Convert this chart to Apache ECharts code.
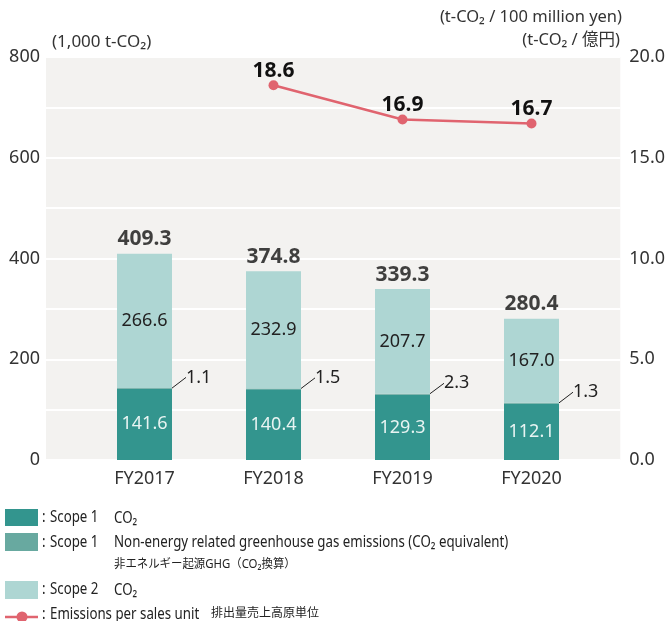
<!DOCTYPE html>
<html><head><meta charset="utf-8">
<script src="https://cdn.jsdelivr.net/npm/echarts@6/dist/echarts.min.js"></script>
<style>html,body{margin:0;padding:0;background:#fff}#c{width:668px;height:621px}</style>
</head><body><div id="c"></div>
<script>
const categories = ['FY2017', 'FY2018', 'FY2019', 'FY2020'];
const scope1CO2 = [141.6, 140.4, 129.3, 112.1];
const scope1NonEnergy = [1.1, 1.5, 2.3, 1.3];
const scope2CO2 = [266.6, 232.9, 207.7, 167.0];
const totals = [409.3, 374.8, 339.3, 280.4];
const intensity = [null, 18.6, 16.9, 16.7];
const leftAxis = {min: 0, max: 800, step: 200};
const rightAxis = {min: 0, max: 20, step: 5};

const C1 = '#33958e', C2 = '#68a9a0', C3 = '#aed6d3', CL = '#e0646f';
const F = '"Noto Sans", "Noto Sans CJK JP", sans-serif';
const chart = echarts.init(document.getElementById('c'));

function legendText(x, y, text, size, sx) {
  return {type: 'text', x: x, y: y, scaleX: sx || 0.83,
    style: {text: text, font: size + 'px ' + F, fill: '#222', verticalAlign: 'middle', textAlign: 'left'}};
}

chart.setOption({
  animation: false,
  textStyle: {fontFamily: F},
  grid: [
    {left: 46, right: 47, top: 57, bottom: 161, show: true, backgroundColor: '#f3f2f0', borderWidth: 0},
    {left: 80, right: 72, top: 57, bottom: 161}
  ],
  xAxis: [
    {gridIndex: 0, type: 'value', show: false, min: 0, max: 1},
    {gridIndex: 1, type: 'category', data: categories, axisLine: {show: false}, axisTick: {show: false},
     axisLabel: {fontSize: 18, color: '#333', margin: 10}}
  ],
  yAxis: [
    {gridIndex: 0, type: 'value', min: leftAxis.min, max: leftAxis.max, interval: leftAxis.step / 2,
     axisLine: {show: false}, axisTick: {show: false},
     axisLabel: {fontSize: 18, color: '#333', margin: 6, formatter: v => (v % leftAxis.step === 0 ? String(v) : '')},
     splitLine: {lineStyle: {color: '#ffffff', width: 2}}},
    {gridIndex: 0, type: 'value', position: 'right', min: rightAxis.min, max: rightAxis.max, interval: rightAxis.step,
     axisLine: {show: false}, axisTick: {show: false}, splitLine: {show: false},
     axisLabel: {fontSize: 18, color: '#333', margin: 9, formatter: v => v.toFixed(1)}},
    {gridIndex: 1, type: 'value', min: leftAxis.min, max: leftAxis.max, show: false, splitLine: {show: false}},
    {gridIndex: 1, type: 'value', min: rightAxis.min, max: rightAxis.max, show: false, splitLine: {show: false}}
  ],
  series: [
    {type: 'bar', name: 'Scope 1 CO2', xAxisIndex: 1, yAxisIndex: 2, stack: 'e', barWidth: 55, data: scope1CO2,
     itemStyle: {color: C1},
     label: {show: true, position: 'inside', color: '#e8f4f2', fontSize: 18, formatter: p => p.value.toFixed(1)}},
    {type: 'bar', name: 'Scope 1 non-energy', xAxisIndex: 1, yAxisIndex: 2, stack: 'e', barWidth: 55, data: scope1NonEnergy,
     itemStyle: {color: C2},
     label: {show: true, position: 'right', distance: 4, color: '#222', fontSize: 18, formatter: p => p.value.toFixed(1)},
     labelLayout: {dx: 10, dy: -11},
     labelLine: {show: true, lineStyle: {color: '#222', width: 1}}},
    {type: 'bar', name: 'Scope 2 CO2', xAxisIndex: 1, yAxisIndex: 2, stack: 'e', barWidth: 55, data: scope2CO2,
     itemStyle: {color: C3},
     label: {show: true, position: 'inside', color: '#222', fontSize: 18, formatter: p => p.value.toFixed(1)}},
    {type: 'scatter', name: 'total', xAxisIndex: 1, yAxisIndex: 2, symbolSize: 0, data: totals,
     label: {show: true, position: 'top', distance: 4, color: '#111', fontSize: 21, fontWeight: 'bold',
       formatter: p => p.value.toFixed(1)}},
    {type: 'line', name: 'Emissions per sales unit', xAxisIndex: 1, yAxisIndex: 3, data: intensity,
     symbol: 'circle', symbolSize: 10, itemStyle: {color: CL}, lineStyle: {color: CL, width: 2.5},
     label: {show: true, position: 'top', distance: -1, color: '#111', fontSize: 21, fontWeight: 'bold',
       formatter: p => p.value.toFixed(1)}}
  ],
  graphic: [
    {type: 'text', x: 52, y: 42, style: {text: '(1,000 t-CO₂)', font: '17px ' + F, fill: '#333', verticalAlign: 'middle'}},
    {type: 'text', x: 622, y: 17, style: {text: '(t-CO₂ / 100 million yen)', font: '16.5px ' + F, fill: '#333', verticalAlign: 'middle', textAlign: 'right'}},
    {type: 'text', x: 620, y: 40, style: {text: '(t-CO₂ / 億円)', font: '16.5px ' + F, fill: '#333', verticalAlign: 'middle', textAlign: 'right'}},
    {type: 'rect', shape: {x: 5, y: 509, width: 33, height: 17}, style: {fill: C1}},
    legendText(42, 517, ':', 16), legendText(50, 517, 'Scope 1', 16), legendText(114, 518, 'CO₂', 16),
    {type: 'rect', shape: {x: 5, y: 533, width: 33, height: 18}, style: {fill: C2}},
    legendText(42, 542, ':', 16), legendText(50, 542, 'Scope 1', 16),
    legendText(114, 542, 'Non-energy related greenhouse gas emissions (CO₂ equivalent)', 16),
    legendText(114, 565, '非エネルギー起源GHG（CO₂換算）', 12, 0.95),
    {type: 'rect', shape: {x: 5, y: 581, width: 33, height: 18}, style: {fill: C3}},
    legendText(42, 589, ':', 16), legendText(50, 589, 'Scope 2', 16), legendText(114, 590, 'CO₂', 16),
    {type: 'line', shape: {x1: 5, y1: 617, x2: 38, y2: 617}, style: {stroke: CL, lineWidth: 2.5}},
    {type: 'circle', shape: {cx: 22, cy: 617, r: 5.5}, style: {fill: CL}},
    legendText(42, 614, ':', 16), legendText(50, 614, 'Emissions per sales unit', 16),
    legendText(211, 614, '排出量売上高原単位', 12, 1)
  ]
});
</script></body></html>
